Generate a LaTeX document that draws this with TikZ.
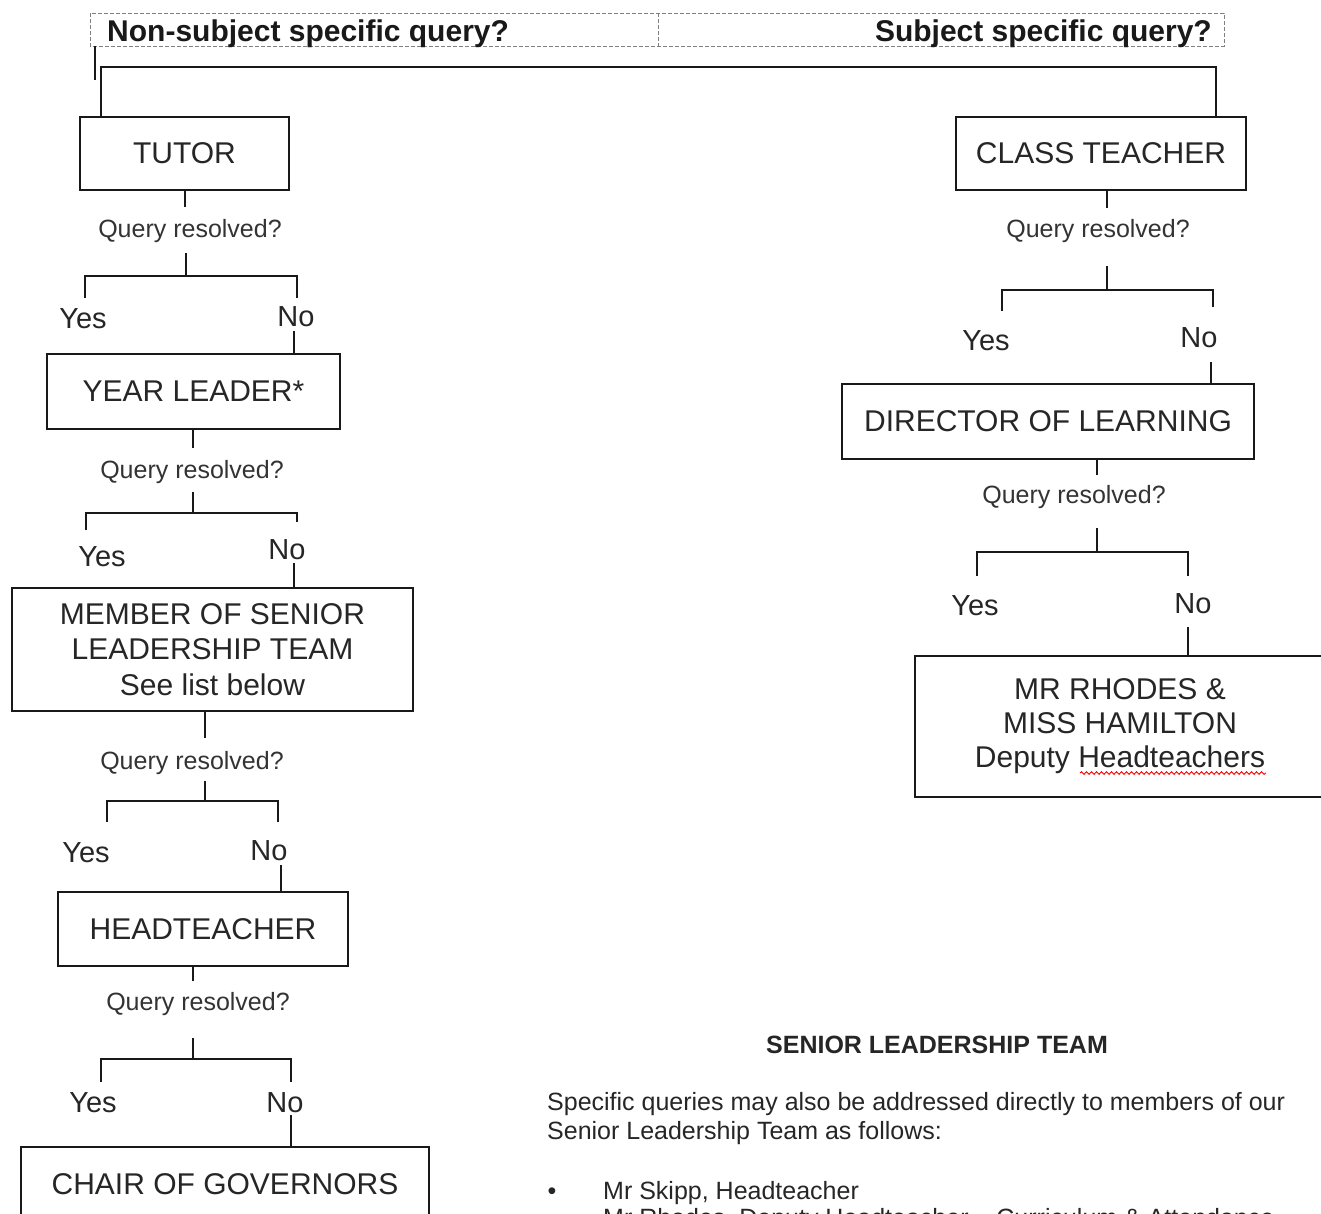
\documentclass[tikz,border=0pt]{standalone}
\usepackage{fontspec}
\setmainfont{Liberation Sans}
\usetikzlibrary{decorations.pathmorphing}
\begin{document}
\begin{tikzpicture}[x=1pt,y=-1pt,
  box/.style={draw=black!90, line width=1.6pt, inner sep=0pt, align=center, font=\fontsize{30}{35.5}\selectfont, text=black!85},
  conn/.style={draw=black!90, line width=1.6pt},
  qlab/.style={font=\fontsize{25}{28}\selectfont, text=black!80, inner sep=0pt},
  yn/.style={font=\fontsize{29}{32}\selectfont, text=black!85, inner sep=0pt},
  hdr/.style={font=\fontsize{30}{34}\selectfont\bfseries, text=black!90, inner sep=0pt},
  body/.style={font=\fontsize{25}{29}\selectfont, text=black!85, inner sep=0pt},
  dashbox/.style={draw=black!50, line width=0.9pt, dash pattern=on 4pt off 2pt}
  ]
\useasboundingbox (0,0) rectangle (1321,1213);
\fill[white] (0,0) rectangle (1321,1213);
\clip (0,0) rectangle (1321,1213);

% header
\draw[dashbox] (90,13) rectangle (1224,46);
\draw[dashbox] (658,13) -- (658,46);
\node[hdr, anchor=base west] (hl) at (107,41) {Non-subject specific query?};
\node[hdr, anchor=base east] (hr) at (1212,41) {Subject specific query?};
\coordinate (tick) at (95,46);
\draw[conn, line width=1.2pt] (tick) -- (95,80);

% boxes left
\node[box, minimum width=209pt, minimum height=73pt] (tutor) at (184.5,153.5) {TUTOR};
\node[box, minimum width=293pt, minimum height=75pt] (year) at (193.5,391.5) {YEAR LEADER*};
\node[box, minimum width=401pt, minimum height=123pt] (slt) at (212.5,649.5) {MEMBER OF SENIOR\\LEADERSHIP TEAM\\See list below};
\node[box, minimum width=290pt, minimum height=74pt] (head) at (203,929) {HEADTEACHER};
\node[box, minimum width=408pt, minimum height=74pt] (chair) at (225,1184) {CHAIR OF GOVERNORS};

% boxes right
\node[box, minimum width=290pt, minimum height=73pt] (class) at (1101,153.5) {CLASS TEACHER};
\node[box, minimum width=412pt, minimum height=75pt] (dir) at (1048,421.5) {DIRECTOR OF LEARNING};
\node[box, minimum width=410pt, minimum height=141pt, font=\fontsize{30}{34}\selectfont] (dep) at (1120,726.5) {MR RHODES \&\\MISS HAMILTON\\Deputy Headteachers};
\draw[red, line width=0.9pt, decorate, decoration={snake, amplitude=1.3pt, segment length=5pt}] (1080,773) -- (1266,773);

% top bus
\draw[conn] (tutor.north -| 101,0) -- (101,67) -- (1216,67) -- (class.north -| 1216,0);

% query labels
\node[qlab] (q1) at (190,231) {Query resolved?};
\node[qlab] (q2) at (192,472) {Query resolved?};
\node[qlab] (q3) at (192,763) {Query resolved?};
\node[qlab] (q4) at (198,1004) {Query resolved?};
\node[qlab] (q5) at (1098,231) {Query resolved?};
\node[qlab] (q6) at (1074,497) {Query resolved?};

% yes / no
\node[yn] (y1) at (83,319) {Yes};   \node[yn] (n1) at (296,317) {No};
\node[yn] (y2) at (102,557) {Yes};  \node[yn] (n2) at (287,550) {No};
\node[yn] (y3) at (86,853) {Yes};   \node[yn] (n3) at (269,851) {No};
\node[yn] (y4) at (93,1103) {Yes};  \node[yn] (n4) at (285,1103) {No};
\node[yn] (y5) at (986,341) {Yes};  \node[yn] (n5) at (1199,338) {No};
\node[yn] (y6) at (975,606) {Yes};  \node[yn] (n6) at (1193,604) {No};

% stage 1 left
\draw[conn] (tutor.south -| 185,0) -- (185,207);
\draw[conn] (186,253) -- (186,276);
\draw[conn] (85,298) -- (85,276) -- (297,276) -- (297,298);
\draw[conn] (294,331) -- (year.north -| 294,0);
% stage 2 left
\draw[conn] (year.south -| 193,0) -- (193,448);
\draw[conn] (193,492) -- (193,513);
\draw[conn] (86,530) -- (86,513) -- (297,513) -- (297,522);
\draw[conn] (294,563) -- (slt.north -| 294,0);
% stage 3 left
\draw[conn] (slt.south -| 205,0) -- (205,738);
\draw[conn] (205,781) -- (205,801);
\draw[conn] (107,822) -- (107,801) -- (278,801) -- (278,822);
\draw[conn] (281,865) -- (head.north -| 281,0);
% stage 4 left
\draw[conn] (head.south -| 193,0) -- (193,981);
\draw[conn] (193,1038) -- (193,1059);
\draw[conn] (101,1082) -- (101,1059) -- (291,1059) -- (291,1082);
\draw[conn] (291,1115) -- (chair.north -| 291,0);
% stage 1 right
\draw[conn] (class.south -| 1107,0) -- (1107,208);
\draw[conn] (1107,266) -- (1107,290);
\draw[conn] (1002,311) -- (1002,290) -- (1213,290) -- (1213,307);
\draw[conn] (1211,362) -- (dir.north -| 1211,0);
% stage 2 right
\draw[conn] (dir.south -| 1097,0) -- (1097,475);
\draw[conn] (1097,528) -- (1097,552);
\draw[conn] (977,576) -- (977,552) -- (1188,552) -- (1188,576);
\draw[conn] (1188,627) -- (dep.north -| 1188,0);

% senior leadership team text
\node[body, font=\fontsize{25}{29}\selectfont\bfseries, anchor=base] (slth) at (937,1053) {SENIOR LEADERSHIP TEAM};
\node[body, anchor=base west] (p1) at (547,1110) {Specific queries may also be addressed directly to members of our};
\node[body, anchor=base west] (p2) at (547,1139) {Senior Leadership Team as follows:};
\node[body, anchor=base] (b1) at (552,1199) {\textbullet};
\node[body, anchor=base west] (l1) at (603,1199) {Mr Skipp, Headteacher};
\node[body, anchor=base west] (l2) at (603,1226) {Mr Rhodes, Deputy Headteacher -- Curriculum \& Attendance};
\end{tikzpicture}
\end{document}
